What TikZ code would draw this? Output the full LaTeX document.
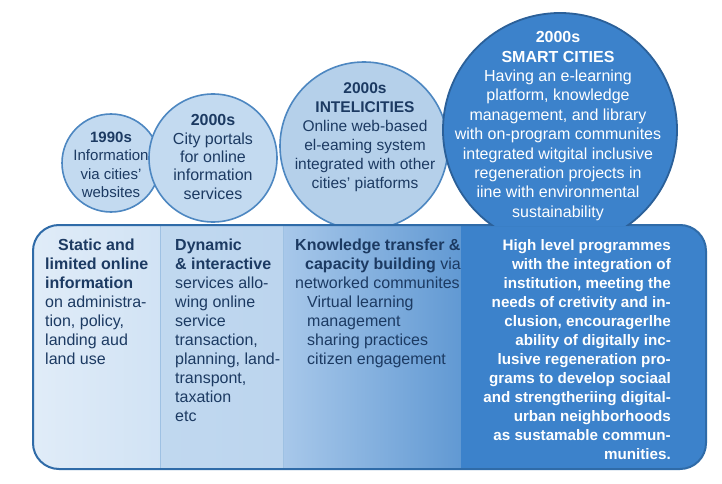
\documentclass[tikz,border=0pt]{standalone}
\usepackage{fontspec}
\setmainfont{Liberation Sans}
\usetikzlibrary{positioning}
\definecolor{navy}{HTML}{1C3A62}
\definecolor{bubblefill}{HTML}{C3DAF0}
\definecolor{bubbleedge}{HTML}{4D87C1}
\definecolor{smartfill}{HTML}{3C82CB}
\definecolor{smartedge}{HTML}{2B6099}
\definecolor{paneledge}{HTML}{2F6BA8}
\definecolor{divline}{HTML}{9EC1E3}
\definecolor{colone}{HTML}{D3E4F5}
\definecolor{coltwo}{HTML}{BCD5EE}
\definecolor{colthree}{HTML}{A8C8EA}
\definecolor{colthreeend}{HTML}{6199D3}
\tikzset{bubble/.style={circle,draw=bubbleedge,line width=1.6pt,fill=bubblefill,inner sep=0pt},
btxt/.style={align=center,text=navy,inner sep=0pt,font=\fontsize{15}{18.5}\selectfont},
coltxt/.style={align=left,anchor=north west,text=navy,inner sep=0pt,font=\fontsize{16}{19}\selectfont},
sep/.style={divline,line width=0.8pt}}

\begin{document}
\begin{tikzpicture}[x=1pt,y=-1pt]
\useasboundingbox (0,0) rectangle (722,484);
\fill[white] (0,0) rectangle (722,484);
\node[bubble,minimum size=98pt] (y1990) at (111,163) {};
\node[bubble,minimum size=128pt] (portals) at (213,158) {};
\node[bubble,minimum size=168pt,fill=bubblefill!88!bubbleedge] (intelli) at (364,146) {};
\begin{scope}
\clip[rounded corners=26pt] (33,225) rectangle (706,469);
\shade[left color=colone!70!white,right color=colone!92!coltwo] (33,225) rectangle (160,469);
\shade[left color=coltwo!80!colone,right color=coltwo] (160,225) rectangle (283,469);
\shade[left color=colthree,right color=colthreeend] (283,225) rectangle (461,469);
\fill[smartfill] (461,225) rectangle (706,469);
\end{scope}
\draw[sep] (160,226) -- (160,468);
\draw[sep] (283,226) -- (283,468);
\draw[paneledge,line width=2pt,rounded corners=26pt] (33,225) rectangle (706,469);
\begin{scope}
\clip (0,0) rectangle (722,225.5);
\node[circle,minimum size=234pt,inner sep=0pt,fill=smartfill] (smart) at (560,130) {};
\draw[smartedge,line width=1.8pt] (smart.center) circle[radius=117];
\end{scope}
\node[btxt] (t1990) at (111,165) {\textbf{1990s}\\Information\\via cities'\\websites};
\node[btxt,font=\fontsize{16}{18.4}\selectfont] (tportals) at (213,157) {\textbf{2000s}\\City portals\\for online\\information\\services};
\node[btxt,font=\fontsize{15.5}{19}\selectfont] (tintelli) at (365,137) {\textbf{2000s}\\\textbf{INTELICITIES}\\Online web-based\\el-eaming system\\integrated with other\\cities' piatforms};
\node[btxt,text=white,font=\fontsize{16}{19.4}\selectfont] (tsmart) at (558,126) {\textbf{2000s}\\\textbf{SMART CITIES}\\Having an e-learning\\platform, knowledge\\management, and library\\with on-program communites\\integrated witgital inclusive\\regeneration projects in\\iine with environmental\\sustainability};
\node[coltxt] (static) at (45,239) {\hspace*{13pt}\textbf{Static and}\\\textbf{limited online}\\\textbf{information}\\on administra-\\tion, policy,\\landing aud\\land use};
\node[coltxt] (dynamic) at (175,239) {\textbf{Dynamic}\\\textbf{\& interactive}\\services allo-\\wing online\\service\\transaction,\\planning, land-\\transpont,\\taxation\\etc};
\node[coltxt] (knowledge) at (295,239) {\textbf{Knowledge transfer \&}\\\hspace*{10pt}\textbf{capacity building} via\\networked communites\\\hspace*{12pt}Virtual learning\\\hspace*{12pt}management\\\hspace*{12pt}sharing practices\\\hspace*{12pt}citizen engagement};
\node[coltxt,anchor=north east,align=right,text=white,font=\bfseries\fontsize{15.2}{19}\selectfont] (highlevel) at (671,239) {High level programmes\\with the integration of\\institution, meeting the\\needs of cretivity and in-\\clusion, encouragerlhe\\ability of digitally inc-\\lusive regeneration pro-\\grams to develop sociaal\\and strengtheriing digital-\\urban neighborhoods\\as sustamable commun-\\munities.};
\end{tikzpicture}
\end{document}
